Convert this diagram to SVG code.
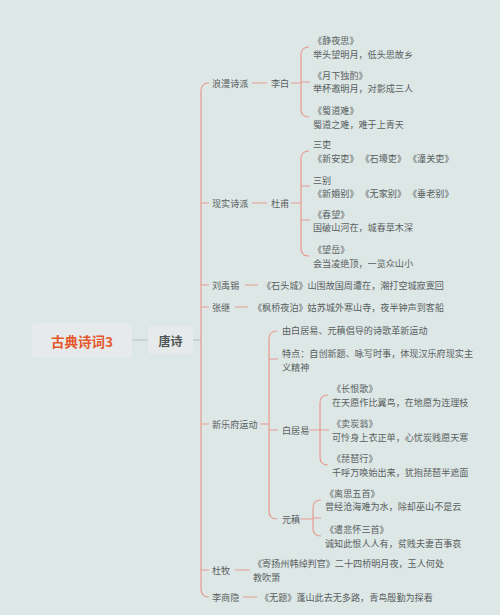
<svg xmlns="http://www.w3.org/2000/svg" width="500" height="615" viewBox="0 0 500 615">
<style>
text{font-family:"Noto Sans CJK SC","Noto Sans",sans-serif;dominant-baseline:central}
.t{font-size:9.1px;fill:#59605f}
.ln{fill:none;stroke:#e79a90;stroke-width:1.2}
.g{fill:none;stroke:#b8c0bf;stroke-width:1.2}
.box{fill:#e6eaea}
</style>
<rect width="500" height="615" fill="#dde7e6"/>
<g id="connectors">
<path class="g" d="M132 340H148M193 340H201"/>
<path class="ln" d="M209 83Q201 83 201 91V589Q201 597 209 597M201 203H209M201 285H209M201 307H209M201 424H209M201 570H209"/>
<path class="ln" d="M252 83H267M291 83H301M309 47Q301 47 301 55V109Q301 117 309 117M301 82H310"/>
<path class="ln" d="M252 203H267M291 203H301M309 151Q301 151 301 159V248Q301 256 309 256M301 186H310M301 220H310"/>
<path class="ln" d="M245 285H258M235 307H248M235 570H250M243 597H257"/>
<path class="ln" d="M260 424H269M277 331Q269 331 269 339V511Q269 519 277 519M269 359H278M269 430H278"/>
<path class="ln" d="M309 430H320M328 395Q320 395 320 403V457Q320 465 328 465M320 430H329"/>
<path class="ln" d="M300 519H313M321 500Q313 500 313 508V528Q313 536 321 536M313 518H321"/>
</g>
<g id="root"><rect class="box" x="32" y="323" width="100" height="35" rx="4"/><text x="82" y="341" text-anchor="middle" font-size="13.5" font-weight="bold" fill="#e5572d">古典诗词3</text></g>
<g id="tangshi"><rect class="box" x="148" y="326" width="45" height="28" rx="4"/><text x="170.5" y="340" text-anchor="middle" font-size="12" font-weight="bold" fill="#4d5453">唐诗</text></g>
<g id="langman"><text class="t" x="212" y="83">浪漫诗派</text></g>
<g id="libai"><text class="t" x="271" y="83">李白</text></g>
<g id="jingyesi"><text class="t" x="313" y="40.4">《静夜思》<tspan x="313" dy="13.3">举头望明月，低头思故乡</tspan></text></g>
<g id="yuexia"><text class="t" x="313" y="74.9">《月下独酌》<tspan x="313" dy="13.3">举杯邀明月，对影成三人</tspan></text></g>
<g id="shudao"><text class="t" x="313" y="110.4">《蜀道难》<tspan x="313" dy="13.3">蜀道之难，难于上青天</tspan></text></g>
<g id="xianshi"><text class="t" x="212" y="203">现实诗派</text></g>
<g id="dufu"><text class="t" x="271" y="203">杜甫</text></g>
<g id="sanli"><text class="t" x="313" y="144.4">三吏<tspan x="313" dy="13.3">《新安吏》 《石壕吏》 《潼关吏》</tspan></text></g>
<g id="sanbie"><text class="t" x="313" y="179.9">三别<tspan x="313" dy="13.3">《新婚别》 《无家别》 《垂老别》</tspan></text></g>
<g id="chunwang"><text class="t" x="313" y="213.9">《春望》<tspan x="313" dy="13.3">国破山河在，城春草木深</tspan></text></g>
<g id="wangyue"><text class="t" x="313" y="249.4">《望岳》<tspan x="313" dy="13.3">会当凌绝顶，一览众山小</tspan></text></g>
<g id="liuyuxi"><text class="t" x="212" y="285">刘禹锡</text><text class="t" x="262" y="285">《石头城》山围故国周遭在，潮打空城寂寞回</text></g>
<g id="zhangji"><text class="t" x="212" y="307">张继</text><text class="t" x="253" y="307">《枫桥夜泊》姑苏城外寒山寺，夜半钟声到客船</text></g>
<g id="xinyuefu"><text class="t" x="212" y="424">新乐府运动</text></g>
<g id="youbai"><text class="t" x="282" y="330">由白居易、元稹倡导的诗歌革新运动</text></g>
<g id="tedian"><text class="t" x="282" y="353.2">特点：自创新题、咏写时事，体现汉乐府现实主<tspan x="282" dy="13.3">义精神</tspan></text></g>
<g id="baijuyi"><text class="t" x="282" y="430">白居易</text></g>
<g id="changhen"><text class="t" x="332" y="388.4">《长恨歌》<tspan x="332" dy="13.3">在天愿作比翼鸟，在地愿为连理枝</tspan></text></g>
<g id="maitan"><text class="t" x="332" y="423.4">《卖炭翁》<tspan x="332" dy="13.3">可怜身上衣正单，心忧炭贱愿天寒</tspan></text></g>
<g id="pipa"><text class="t" x="332" y="458.4">《琵琶行》<tspan x="332" dy="13.3">千呼万唤始出来，犹抱琵琶半遮面</tspan></text></g>
<g id="yuanzhen"><text class="t" x="282" y="519">元稹</text></g>
<g id="lisi"><text class="t" x="325" y="492.9">《离思五首》<tspan x="325" dy="13.3">曾经沧海难为水，除却巫山不是云</tspan></text></g>
<g id="qianbei"><text class="t" x="325" y="529.4">《遣悲怀三首》<tspan x="325" dy="13.3">诚知此恨人人有，贫贱夫妻百事哀</tspan></text></g>
<g id="dumu"><text class="t" x="212" y="570">杜牧</text><text class="t" x="253" y="563.4">《寄扬州韩绰判官》二十四桥明月夜，玉人何处<tspan x="253" dy="13.3">教吹箫</tspan></text></g>
<g id="lishangyin"><text class="t" x="212" y="597">李商隐</text><text class="t" x="260" y="597">《无题》蓬山此去无多路，青鸟殷勤为探看</text></g>
</svg>
